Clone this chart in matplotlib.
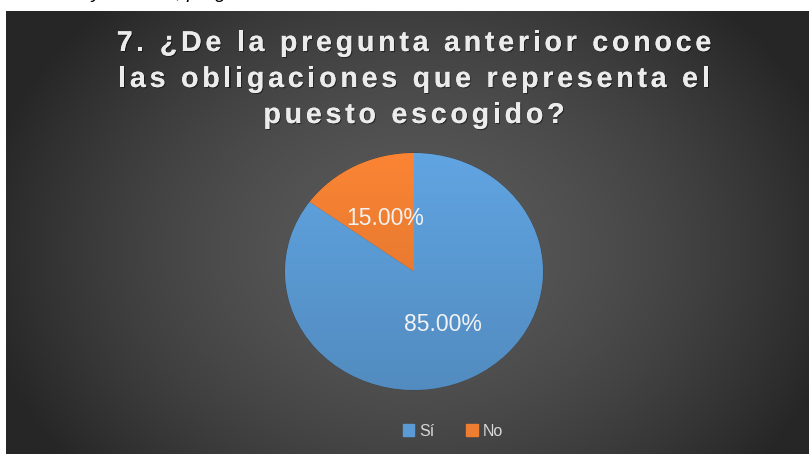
import numpy as np
import matplotlib.pyplot as plt
import matplotlib.patheffects as pe
from matplotlib import font_manager
from matplotlib.ft2font import FT2Font

# survey answers for question 7
categories = ["Sí", "No"]
shares = [85.0, 15.0]
colors = ["#5B9BD5", "#ED7D31"]

title_lines = [
    "7. ¿De la pregunta anterior conoce",
    "las obligaciones que representa el",
    "puesto escogido?",
]

W, H = 809, 454
DPI = 100
fig = plt.figure(figsize=(W / DPI, H / DPI), dpi=DPI)
fig.patch.set_facecolor("white")


def px(x, y):
    # pixel position (from top-left) -> figure fraction
    return x / W, 1 - y / H


# caption line of the document above the chart (only its lower edge is on the page)
fig.text(*px(20, -1.5), "Análisis y cuadros, pregunta 7", fontsize=14, style="italic",
         color="black", va="baseline", ha="left", family="Liberation Sans")

# dark chart area with radial shading
bg = fig.add_axes([6 / W, 0, 1 - 6 / W, 1 - 11 / H])
bg.set_axis_off()
yy, xx = np.mgrid[11:454:300j, 6:809:500j]
d = np.sqrt(((xx - 414) / 420) ** 2 + ((yy - 250) / 330) ** 2)
shade = np.clip(90 - 48 * d ** 1.6, 38, 90) / 255
bg.imshow(np.dstack([shade] * 3), aspect="auto", extent=[0, 1, 0, 1], origin="upper")
bg.set_xlim(0, 1)
bg.set_ylim(0, 1)

# title with wide letter spacing, placed glyph by glyph
tprop = font_manager.FontProperties(family="Liberation Sans", weight="bold", size=20.6)
ft = FT2Font(font_manager.findfont(tprop))
ft.set_size(tprop.get_size_in_points(), DPI)
tracking = 3.75
shadow = [pe.withSimplePatchShadow(offset=(0.8, -0.8), shadow_rgbFace="black", alpha=0.45),
          pe.Normal()]
for i, line in enumerate(title_lines):
    adv = [ft.load_char(ord(ch)).linearHoriAdvance / 65536 for ch in line]
    total = sum(adv) + tracking * (len(line) - 1)
    x = 414 - total / 2
    base = 51 + 36 * i
    for ch, a in zip(line, adv):
        if ch != " ":
            fig.text(*px(x, base), ch, fontproperties=tprop, color="#ececec",
                     ha="left", va="baseline", path_effects=shadow)
        x += a + tracking

# pie
ax = fig.add_axes([285 / W, 1 - 390 / H, 258 / W, 237 / H])
wedges, texts, autotexts = ax.pie(
    shares, colors=colors, startangle=90, counterclock=False,
    autopct="%.2f%%", pctdistance=0.5,
    textprops=dict(color="#f2f2f2", fontsize=16.5, family="Liberation Sans"),
    wedgeprops=dict(linewidth=0.5, edgecolor="#404040"))
ax.set_aspect("auto")
ax.set_xlim(-1.0, 1.0)
ax.set_ylim(-1.0, 1.0)

# light-to-dark shading inside each slice
grad = np.linspace(1.0, 0.0, 200)[:, None]
for w, c in zip(wedges, colors):
    base_rgb = np.array(plt.matplotlib.colors.to_rgb(c))
    img = np.clip(base_rgb * (0.9 + 0.16 * grad[..., None]), 0, 1) * np.ones((1, 2, 1))
    im = ax.imshow(img, extent=[-1, 1, -1, 1], aspect="auto", zorder=w.get_zorder(),
                   origin="upper")
    im.set_clip_path(w)
for t in autotexts:
    t.set_zorder(5)

# legend
handles = [plt.Rectangle((0, 0), 1, 1, color=c) for c in colors]
fig.legend(handles, categories, loc="center", bbox_to_anchor=px(453, 431),
           ncol=2, frameon=False, labelcolor="#d9d9d9",
           handlelength=0.7, handleheight=0.7, handletextpad=0.3, columnspacing=2.0,
           prop=dict(family="Liberation Sans", size=11.5))

fig.savefig("out.png", dpi=DPI, facecolor=fig.get_facecolor())
